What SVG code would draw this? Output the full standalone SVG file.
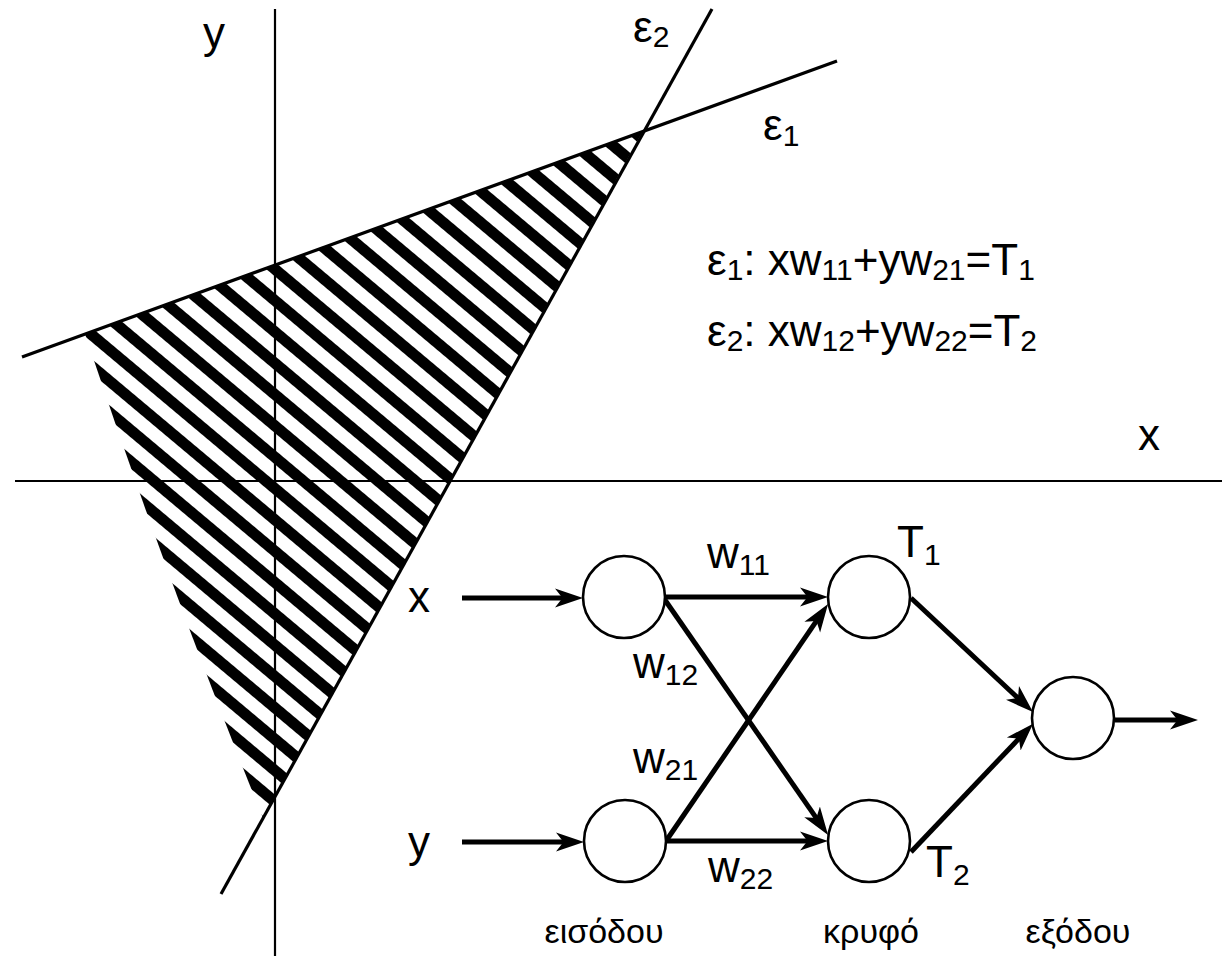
<svg xmlns="http://www.w3.org/2000/svg" width="1222" height="956" viewBox="0 0 1222 956">
<style>
text{font-family:"Liberation Sans",Arial,sans-serif;fill:#000}
.lbl{font-size:44px}
.sub{font-size:30px}
.cap{font-size:34px}
.axis{stroke:#000;stroke-width:2.2;fill:none}
.eps{stroke:#000;stroke-width:3.2;fill:none}
.node{fill:#fff;stroke:#000;stroke-width:2.6}
.conn{stroke:#000;stroke-width:5;fill:none;marker-end:url(#arr)}
</style>
<defs>
<pattern id="hatch" patternUnits="userSpaceOnUse" width="100" height="24" patternTransform="rotate(40)">
<rect x="0" y="0" width="100" height="11" fill="#000" shape-rendering="crispEdges"/>
</pattern>
<marker id="arr" markerUnits="userSpaceOnUse" markerWidth="32" markerHeight="22" refX="13" refY="11" orient="auto" viewBox="0 0 32 22">
<path d="M28,11 L0,1.5 L7.5,11 L0,20.5 Z" fill="#000"/>
</marker>
</defs>
<rect width="1222" height="956" fill="#fff"/>

<g id="plot">
<path d="M85,334 L643,131 L263,818 Q166.5,579 85,334 Z" fill="url(#hatch)"/>
<line class="axis" x1="275" y1="9" x2="275" y2="956"/>
<line class="axis" x1="15" y1="481" x2="1222" y2="481"/>
<line class="eps" x1="22" y1="357" x2="837" y2="61"/>
<line class="eps" x1="712" y1="9" x2="221" y2="894"/>
<text class="lbl" x="203" y="48">y</text>
<text class="lbl" x="1138" y="450">x</text>
<text class="lbl" x="633" y="42">ε<tspan class="sub" dy="5">2</tspan></text>
<text class="lbl" x="763" y="140">ε<tspan class="sub" dy="6">1</tspan></text>
<text class="lbl" x="707" y="275">ε<tspan class="sub" dy="5">1</tspan><tspan dy="-5">: xw</tspan><tspan class="sub" dy="5">11</tspan><tspan dy="-5">+yw</tspan><tspan class="sub" dy="5">21</tspan><tspan dy="-5">=T</tspan><tspan class="sub" dy="5">1</tspan></text>
<text class="lbl" x="707" y="346">ε<tspan class="sub" dy="5">2</tspan><tspan dy="-5">: xw</tspan><tspan class="sub" dy="5">12</tspan><tspan dy="-5">+yw</tspan><tspan class="sub" dy="5">22</tspan><tspan dy="-5">=T</tspan><tspan class="sub" dy="5">2</tspan></text>
</g>

<g id="connectors">
<line class="conn" x1="462" y1="598" x2="568" y2="598"/>
<line class="conn" x1="462" y1="842" x2="569" y2="842"/>
<line class="conn" x1="666" y1="597" x2="813" y2="597"/>
<line class="conn" x1="665" y1="600" x2="819.5" y2="822.6"/>
<line class="conn" x1="666" y1="841" x2="819.6" y2="616.4"/>
<line class="conn" x1="666" y1="841" x2="813" y2="841"/>
<line class="conn" x1="911" y1="598" x2="1022" y2="701.8"/>
<line class="conn" x1="911" y1="852" x2="1022.7" y2="734.6"/>
<line class="conn" x1="1115" y1="720" x2="1183" y2="720"/>
<text class="lbl" x="707" y="568">w<tspan class="sub" dy="7">11</tspan></text>
<text class="lbl" x="633" y="678">w<tspan class="sub" dy="7">12</tspan></text>
<text class="lbl" x="633" y="773">w<tspan class="sub" dy="7">21</tspan></text>
<text class="lbl" x="708" y="882">w<tspan class="sub" dy="7">22</tspan></text>
<text class="lbl" x="408" y="612">x</text>
<text class="lbl" x="408" y="857">y</text>
</g>

<g id="in1"><circle class="node" cx="624" cy="597" r="41"/></g>
<g id="in2"><circle class="node" cx="625" cy="841" r="41"/></g>
<g id="h1"><circle class="node" cx="869" cy="597" r="41"/><text class="lbl" x="897" y="557">T<tspan class="sub" dy="8">1</tspan></text></g>
<g id="h2"><circle class="node" cx="869" cy="841" r="41"/><text class="lbl" x="926" y="877">T<tspan class="sub" dy="8">2</tspan></text></g>
<g id="out"><circle class="node" cx="1073" cy="718" r="41"/></g>

<g id="captions">
<text class="cap" x="604" y="943" text-anchor="middle">εισόδου</text>
<text class="cap" x="871" y="943" text-anchor="middle">κρυφό</text>
<text class="cap" x="1078" y="943" text-anchor="middle">εξόδου</text>
</g>
</svg>
